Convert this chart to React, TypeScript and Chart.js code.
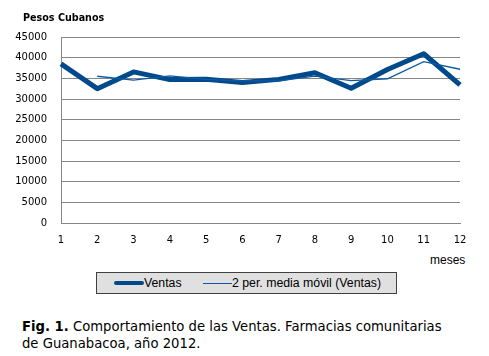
import React, { useEffect, useRef } from "react";
import { Chart, registerables } from "chart.js";

Chart.register(...registerables);

const meses = ["1", "2", "3", "4", "5", "6", "7", "8", "9", "10", "11", "12"];
const ventas = [38500, 32500, 36550, 34700, 34800, 34000, 34750, 36350, 32600, 37150, 40950, 33400];
const mediaMovil = [null, 35500, 34550, 35600, 34750, 34400, 34400, 35550, 34450, 34900, 39050, 37200];
const yMin = 0;
const yMax = 45000;
const yStep = 5000;

const darkBlue = "#004a8c";
const thinBlue = "#0b5aa3";
const gridGray = "#868686";

export default function App() {
  const ref = useRef<HTMLCanvasElement | null>(null);

  useEffect(() => {
    if (!ref.current) return;
    const chart = new Chart(ref.current, {
      type: "line",
      data: {
        labels: meses,
        datasets: [
          {
            label: "Ventas",
            data: ventas,
            borderColor: darkBlue,
            backgroundColor: darkBlue,
            borderWidth: 5,
            pointRadius: 0,
            tension: 0,
            borderJoinStyle: "round",
            order: 2,
          },
          {
            label: "2 per. media móvil (Ventas)",
            data: mediaMovil,
            borderColor: thinBlue,
            backgroundColor: thinBlue,
            borderWidth: 1.3,
            pointRadius: 0,
            tension: 0,
            order: 1,
          },
        ],
      },
      options: {
        responsive: false,
        animation: false,
        devicePixelRatio: 1,
        layout: { padding: { top: 37, right: 29, left: 0, bottom: 0 } },
        plugins: { legend: { display: false }, tooltip: { enabled: false }, title: { display: false } },
        scales: {
          x: {
            offset: false,
            grid: { display: false, drawTicks: false },
            border: { display: true, color: gridGray, width: 1 },
            ticks: {
              color: "#000",
              padding: 11,
              maxRotation: 0,
              autoSkip: false,
              font: { family: "DejaVu Sans", size: 10 },
            },
            afterFit: (s: any) => {
              s.height = 27;
            },
          },
          y: {
            min: yMin,
            max: yMax,
            grid: { color: gridGray, lineWidth: 1, drawTicks: false },
            border: { display: true, color: gridGray, width: 1 },
            ticks: {
              stepSize: yStep,
              color: "#000",
              padding: 14,
              font: { family: "DejaVu Sans", size: 10 },
              callback: (v: any) => String(v),
            },
            afterFit: (s: any) => {
              s.width = 61;
            },
          },
        },
      },
    });
    return () => chart.destroy();
  }, []);

  return (
    <div
      style={{
        position: "fixed",
        left: 0,
        top: 0,
        width: 489,
        height: 356,
        background: "#fff",
        overflow: "hidden",
      }}
    >
      <canvas ref={ref} width={489} height={250} style={{ position: "absolute", left: 0, top: 0 }} />
      <div
        style={{
          position: "absolute",
          left: 23,
          top: 11,
          font: "bold 9.6px 'DejaVu Sans'",
          lineHeight: "14px",
          whiteSpace: "nowrap",
        }}
      >
        Pesos Cubanos
      </div>
      <div
        style={{
          position: "absolute",
          left: 430,
          top: 253,
          font: "12px 'Liberation Sans'",
          lineHeight: "14px",
          whiteSpace: "nowrap",
        }}
      >
        meses
      </div>
      <div
        style={{
          position: "absolute",
          left: 96,
          top: 272,
          width: 301,
          height: 22,
          boxSizing: "border-box",
          border: "1px solid #404040",
          background: "#e0e0e0",
        }}
      />
      <div
        style={{
          position: "absolute",
          left: 114,
          top: 281,
          width: 30,
          height: 4,
          borderRadius: 2,
          background: darkBlue,
        }}
      />
      <div
        style={{
          position: "absolute",
          left: 144,
          top: 276,
          font: "12.3px 'Liberation Sans'",
          lineHeight: "14px",
          whiteSpace: "nowrap",
        }}
      >
        Ventas
      </div>
      <div
        style={{
          position: "absolute",
          left: 203,
          top: 283,
          width: 29,
          height: 1,
          background: thinBlue,
        }}
      />
      <div
        style={{
          position: "absolute",
          left: 232,
          top: 276,
          font: "12.3px 'Liberation Sans'",
          lineHeight: "14px",
          whiteSpace: "nowrap",
        }}
      >
        2 per. media móvil (Ventas)
      </div>
      <div
        style={{
          position: "absolute",
          left: 22,
          top: 318,
          font: "13.2px 'DejaVu Sans'",
          lineHeight: "17px",
          whiteSpace: "nowrap",
        }}
      >
        <b>Fig. 1.</b> Comportamiento de las Ventas. Farmacias comunitarias
        <br />
        de Guanabacoa, año 2012.
      </div>
    </div>
  );
}
